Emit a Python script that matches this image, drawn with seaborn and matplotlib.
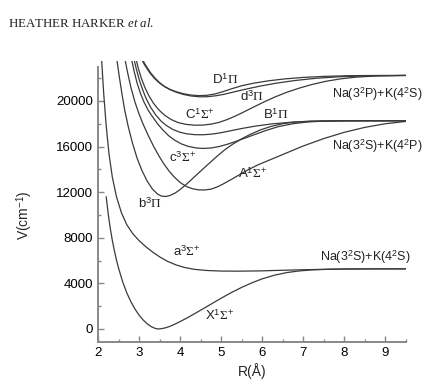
import numpy as np
import pandas as pd
import seaborn as sns
from matplotlib import pyplot as plt
from matplotlib.ticker import MultipleLocator

# potential curves, R in Angstrom, V in cm-1
X_R = [2.20, 2.25, 2.30, 2.35, 2.40, 2.45, 2.50, 2.60, 2.70, 2.80, 2.90, 3.00, 3.10, 3.20, 3.30,
       3.40, 3.47, 3.55, 3.65, 3.75, 3.87, 4.00, 4.20, 4.40, 4.60, 4.80, 5.00, 5.25, 5.50, 5.75,
       6.00, 6.30, 6.60, 6.90, 7.20, 7.60, 8.00, 8.60, 9.50]
X_V = [11600, 10050, 8800, 7750, 6850, 6050, 5350, 4150, 3180, 2400, 1750, 1220, 790, 450, 200,
       45, 0, 30, 110, 230, 420, 650, 1030, 1440, 1860, 2280, 2700, 3200, 3650, 4050,
       4400, 4720, 4950, 5090, 5180, 5235, 5260, 5271, 5274]

a_R = [2.09, 2.14, 2.20, 2.27, 2.35, 2.45, 2.57, 2.70, 2.85, 3.00, 3.17, 3.34, 3.52, 3.70, 3.90,
       4.10, 4.35, 4.65, 5.00, 5.40, 5.90, 6.50, 7.10, 7.70, 8.40, 9.50]
a_V = [23500, 20600, 17800, 15300, 13300, 11600, 10200, 9150, 8350, 7750, 7200, 6720, 6280, 5920, 5620,
       5400, 5230, 5130, 5080, 5070, 5090, 5150, 5205, 5245, 5268, 5274]

b_R = [2.46, 2.52, 2.58, 2.65, 2.74, 2.84, 2.95, 3.07, 3.20, 3.33, 3.45, 3.55, 3.65, 3.75, 3.88,
       4.00, 4.15, 4.30, 4.50, 4.70, 4.90, 5.10, 5.30, 5.50, 5.70, 5.95, 6.20, 6.50, 6.80, 7.20,
       7.80, 9.50]
b_V = [23600, 22100, 20700, 19200, 17700, 16300, 15000, 13900, 12950, 12250, 11830, 11650, 11620, 11700, 11920,
       12230, 12680, 13180, 13850, 14500, 15150, 15750, 16250, 16680, 17050, 17450, 17750, 18000, 18150, 18230,
       18255, 18259]

A_R = [2.66, 2.72, 2.80, 2.90, 3.00, 3.10, 3.22, 3.35, 3.48, 3.60, 3.72, 3.85, 4.00, 4.15, 4.30,
       4.45, 4.60, 4.75, 4.90, 5.05, 5.25, 5.45, 5.65, 5.90, 6.20, 6.60, 7.00, 7.50, 8.00, 8.50,
       9.00, 9.50]
A_V = [23600, 22500, 21200, 19900, 18850, 17950, 17000, 16050, 15200, 14500, 13900, 13350, 12850, 12500, 12300,
       12200, 12190, 12260, 12450, 12720, 13120, 13540, 13950, 14400, 14850, 15450, 16050, 16700, 17250, 17680,
       18000, 18200]

c_R = [2.82, 2.88, 2.95, 3.03, 3.12, 3.22, 3.33, 3.45, 3.58, 3.72, 3.87, 4.03, 4.20, 4.38, 4.56,
       4.75, 4.95, 5.15, 5.35, 5.55, 5.80, 6.10, 6.40, 6.75, 7.10, 7.50, 8.10, 9.50]
c_V = [23600, 22600, 21600, 20700, 19900, 19200, 18600, 18000, 17450, 16950, 16550, 16230, 16010, 15880, 15830,
       15870, 16000, 16200, 16440, 16700, 17030, 17420, 17750, 18000, 18150, 18230, 18255, 18259]

B_R = [2.88, 2.94, 3.01, 3.09, 3.18, 3.28, 3.40, 3.53, 3.67, 3.82, 3.98, 4.15, 4.35, 4.55, 4.75,
       4.95, 5.20, 5.50, 5.85, 6.25, 6.70, 7.20, 7.80, 8.50, 9.50]
B_V = [23600, 22700, 21800, 20950, 20150, 19450, 18800, 18250, 17830, 17500, 17270, 17120, 17040, 17030, 17080,
       17180, 17360, 17580, 17800, 17990, 18130, 18210, 18250, 18258, 18259]

C_R = [2.93, 2.99, 3.06, 3.14, 3.24, 3.35, 3.48, 3.62, 3.78, 3.95, 4.15, 4.35, 4.55, 4.75, 4.95,
       5.15, 5.35, 5.55, 5.80, 6.05, 6.30, 6.60, 6.90, 7.20, 7.55, 7.90, 8.30, 8.80, 9.50]
C_V = [23600, 22750, 21950, 21200, 20450, 19800, 19220, 18750, 18370, 18100, 17940, 17870, 17880, 17960, 18120,
       18370, 18680, 19030, 19480, 19920, 20330, 20760, 21120, 21430, 21720, 21930, 22090, 22190, 22234]

D_R = [3.07, 3.12, 3.18, 3.27, 3.37, 3.48, 3.60, 3.74, 3.90, 4.07, 4.25, 4.45, 4.65, 4.85, 5.05,
       5.25, 5.50, 5.80, 6.15, 6.55, 7.00, 7.50, 8.10, 8.80, 9.50]
D_V = [23600, 23250, 22900, 22420, 22000, 21620, 21300, 21030, 20810, 20640, 20520, 20460, 20490, 20610, 20820,
       21060, 21330, 21560, 21760, 21930, 22060, 22150, 22210, 22230, 22234]

d_R = [3.09, 3.14, 3.20, 3.29, 3.39, 3.50, 3.62, 3.76, 3.92, 4.09, 4.27, 4.47, 4.67, 4.87, 5.07,
       5.30, 5.60, 5.95, 6.35, 6.80, 7.30, 7.90, 8.60, 9.50]
d_V = [23600, 23250, 22900, 22420, 22000, 21600, 21260, 20980, 20740, 20560, 20430, 20360, 20370, 20450, 20580,
       20780, 21030, 21300, 21560, 21790, 21980, 22120, 22200, 22234]

curves = {'X': (X_R, X_V), 'a': (a_R, a_V), 'b': (b_R, b_V), 'A': (A_R, A_V), 'c': (c_R, c_V),
          'B': (B_R, B_V), 'C': (C_R, C_V), 'D': (D_R, D_V), 'd': (d_R, d_V)}

frames = [pd.DataFrame({'R': r, 'V': v, 'state': k}) for k, (r, v) in curves.items()]
df = pd.concat(frames, ignore_index=True)

# state labels (text, R, V)
state_labels = [(r'D$^\mathsf{1}\Pi$', 5.10, 21840),
                (r'd$^\mathsf{3}\Pi$', 5.76, 20350),
                (r'C$^\mathsf{1}\Sigma^\mathsf{+}$', 4.49, 18770),
                (r'B$^\mathsf{1}\Pi$', 6.34, 18770),
                (r'c$^\mathsf{3}\Sigma^\mathsf{+}$', 4.05, 15000),
                (r'A$^\mathsf{1}\Sigma^\mathsf{+}$', 5.76, 13600),
                (r'b$^\mathsf{3}\Pi$', 3.27, 10960),
                (r'a$^\mathsf{3}\Sigma^\mathsf{+}$', 4.17, 6750),
                (r'X$^\mathsf{1}\Sigma^\mathsf{+}$', 4.95, 1140)]
limit_labels = [(r'Na(3$^\mathsf{2}$P)+K(4$^\mathsf{2}$S)', 7.71, 20600),
                (r'Na(3$^\mathsf{2}$S)+K(4$^\mathsf{2}$P)', 7.71, 16050),
                (r'Na(3$^\mathsf{2}$S)+K(4$^\mathsf{2}$S)', 7.41, 6310)]

sns.set_theme(style='ticks')
plt.rcParams['font.family'] = ['Liberation Sans', 'DejaVu Sans']
plt.rcParams['mathtext.fontset'] = 'custom'
plt.rcParams['mathtext.rm'] = 'Liberation Serif'
plt.rcParams['mathtext.sf'] = 'Liberation Sans'
plt.rcParams['mathtext.it'] = 'Liberation Serif:italic'

fig = plt.figure(figsize=(4.4, 3.86), dpi=100)
ax = fig.add_axes([0.2227, 0.114, 0.70, 0.728])

sns.lineplot(data=df, x='R', y='V', units='state', estimator=None, color='#3a3a3a',
             linewidth=0.9, legend=False, ax=ax)

ax.set_xlim(2, 9.5)
ax.set_ylim(-1140, 23500)
ax.xaxis.set_major_locator(MultipleLocator(1))
ax.xaxis.set_minor_locator(MultipleLocator(0.5))
ax.yaxis.set_major_locator(MultipleLocator(4000))
ax.yaxis.set_minor_locator(MultipleLocator(2000))
ax.set_yticks([0, 4000, 8000, 12000, 16000, 20000])
ax.tick_params(which='both', direction='in', color='#888888', labelsize=9.5, labelcolor='black')
ax.tick_params(which='major', length=4, width=1)
ax.tick_params(which='minor', length=2.5, width=1)
for s in ['top', 'right']:
    ax.spines[s].set_visible(False)
for s in ['left', 'bottom']:
    ax.spines[s].set_color('#888888')
    ax.spines[s].set_linewidth(1.4)
ax.spines['left'].set_bounds(-1140, 23000)

ax.set_xlabel('R(Å)', fontsize=10, labelpad=3)
ax.set_ylabel('V(cm$^\\mathsf{-1}$)', fontsize=10)
ax.yaxis.set_label_coords(-0.205, 0.45)

for txt, r, v in state_labels:
    ax.text(r, v, txt, fontsize=9.5, ha='center', va='center', color='#222222')
for txt, r, v in limit_labels:
    ax.text(r, v, txt, fontsize=9, ha='left', va='center', color='#222222', clip_on=False)

fig.text(0.018, 0.94, r'HEATHER HARKER $\it{et\ al.}$', family='Liberation Serif',
         fontsize=9.3, color='#222222', va='center')

fig.savefig('out.png', dpi=100)
